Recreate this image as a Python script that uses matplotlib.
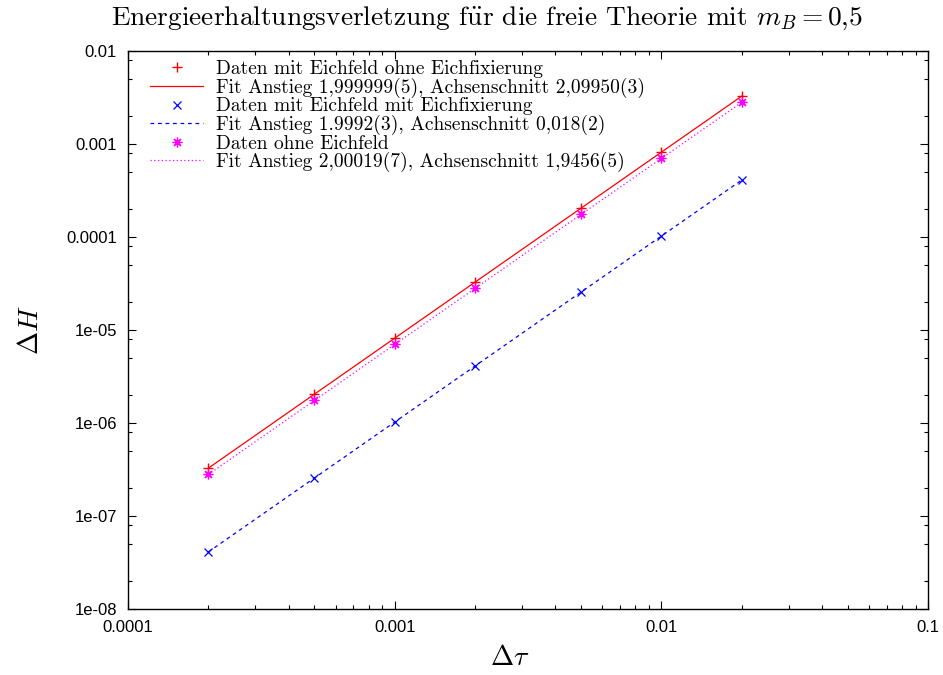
import numpy as np
import matplotlib
matplotlib.use("Agg")
import matplotlib.pyplot as plt
from matplotlib.ticker import FixedLocator, FixedFormatter, NullFormatter

plt.rcParams["mathtext.fontset"] = "cm"
plt.rcParams["axes.unicode_minus"] = False

# time steps and energy violation
dtau = [0.0002, 0.0005, 0.001, 0.002, 0.005, 0.01, 0.02]
dH_ohne_fix = [3.26e-7, 2.04e-6, 8.16e-6, 3.26e-5, 2.04e-4, 8.16e-4, 3.26e-3]
dH_mit_fix = [4.07e-8, 2.55e-7, 1.02e-6, 4.07e-6, 2.55e-5, 1.02e-4, 4.06e-4]
dH_ohne_feld = [2.80e-7, 1.75e-6, 7.00e-6, 2.80e-5, 1.75e-4, 7.00e-4, 2.80e-3]

# log-log fits: ln(dH) = a * ln(dtau) + b
fit_ohne_fix = (1.999999, 2.09950)
fit_mit_fix = (1.9992, 0.018)
fit_ohne_feld = (2.00019, 1.9456)

xticks = [1e-4, 1e-3, 1e-2, 1e-1]
xticklabels = ["0.0001", "0.001", "0.01", "0.1"]
yticks = [1e-8, 1e-7, 1e-6, 1e-5, 1e-4, 1e-3, 1e-2]
yticklabels = ["1e-08", "1e-07", "1e-06", "1e-05", "0.0001", "0.001", "0.01"]

cm_font = "cmr10"
tick_font = "Liberation Sans"


def fit_line(params):
    a, b = params
    x = np.array([dtau[0], dtau[-1]])
    return x, np.exp(b) * x ** a


fig = plt.figure(figsize=(9.43, 6.75), dpi=100)
ax = fig.add_axes([128 / 943, 1 - 609 / 675, 800 / 943, 558 / 675])
ax.set_xscale("log")
ax.set_yscale("log")
ax.set_xlim(1e-4, 1e-1)
ax.set_ylim(1e-8, 1e-2)

ax.plot(dtau, dH_ohne_fix, ls="none", marker="+", ms=7, mew=1.0, color="#ff0000",
        label="Daten mit Eichfeld ohne Eichfixierung")
ax.plot(*fit_line(fit_ohne_fix), color="#ff0000", lw=0.9,
        label="Fit Anstieg 1,999999(5), Achsenschnitt 2,09950(3)")
ax.plot(dtau, dH_mit_fix, ls="none", marker="x", ms=6, mew=0.9, color="#0000ff",
        label="Daten mit Eichfeld mit Eichfixierung")
ax.plot(*fit_line(fit_mit_fix), color="#0000ff", lw=0.9, dashes=(3, 3),
        label="Fit Anstieg 1.9992(3), Achsenschnitt 0,018(2)")
ax.plot(dtau, dH_ohne_feld, ls="none", marker=(8, 2, 0), ms=7, mew=0.9, color="#ff00ff",
        label="Daten ohne Eichfeld")
ax.plot(*fit_line(fit_ohne_feld), color="#ff00ff", lw=0.9, dashes=(1, 2),
        label="Fit Anstieg 2,00019(7), Achsenschnitt 1,9456(5)")

# ticks inward on all sides
ax.xaxis.set_major_locator(FixedLocator(xticks))
ax.xaxis.set_major_formatter(FixedFormatter(xticklabels))
ax.xaxis.set_minor_locator(FixedLocator([m * d for d in xticks[:-1] for m in range(2, 10)]))
ax.xaxis.set_minor_formatter(NullFormatter())
ax.yaxis.set_major_locator(FixedLocator(yticks))
ax.yaxis.set_major_formatter(FixedFormatter(yticklabels))
ax.yaxis.set_minor_locator(FixedLocator([m * d for d in yticks[:-1] for m in (2, 5, 8)]))
ax.yaxis.set_minor_formatter(NullFormatter())
ax.tick_params(which="both", direction="in", top=True, right=True, width=0.8, color="black")
ax.tick_params(which="major", length=6)
ax.tick_params(which="minor", length=3)
ax.tick_params(axis="x", pad=8)
ax.tick_params(axis="y", pad=8)
for lbl in ax.get_xticklabels() + ax.get_yticklabels():
    lbl.set_fontfamily(tick_font)
    lbl.set_fontsize(12)
for sp in ax.spines.values():
    sp.set_linewidth(1.0)

leg = ax.legend(loc="upper left", bbox_to_anchor=(150 / 943, 1 - 60 / 675),
                bbox_transform=fig.transFigure, frameon=False,
                prop={"family": cm_font, "size": 14},
                handlelength=2.74, handletextpad=0.68, labelspacing=-0.02,
                borderpad=0, borderaxespad=0)

fig.text(487 / 943, 1 - 18 / 675,
         r"Energieerhaltungsverletzung f$\ddot{\rm u}$r die freie Theorie mit $m_B = 0{,}5$",
         ha="center", va="center", fontsize=19.7, family=cm_font)
fig.text(30 / 943, 1 - 330 / 675, r"$\Delta H$", rotation=90,
         ha="center", va="center", fontsize=20)
fig.text(510 / 943, 1 - 657 / 675, r"$\Delta \tau$",
         ha="center", va="center", fontsize=20)

fig.savefig("out.png", dpi=100)
